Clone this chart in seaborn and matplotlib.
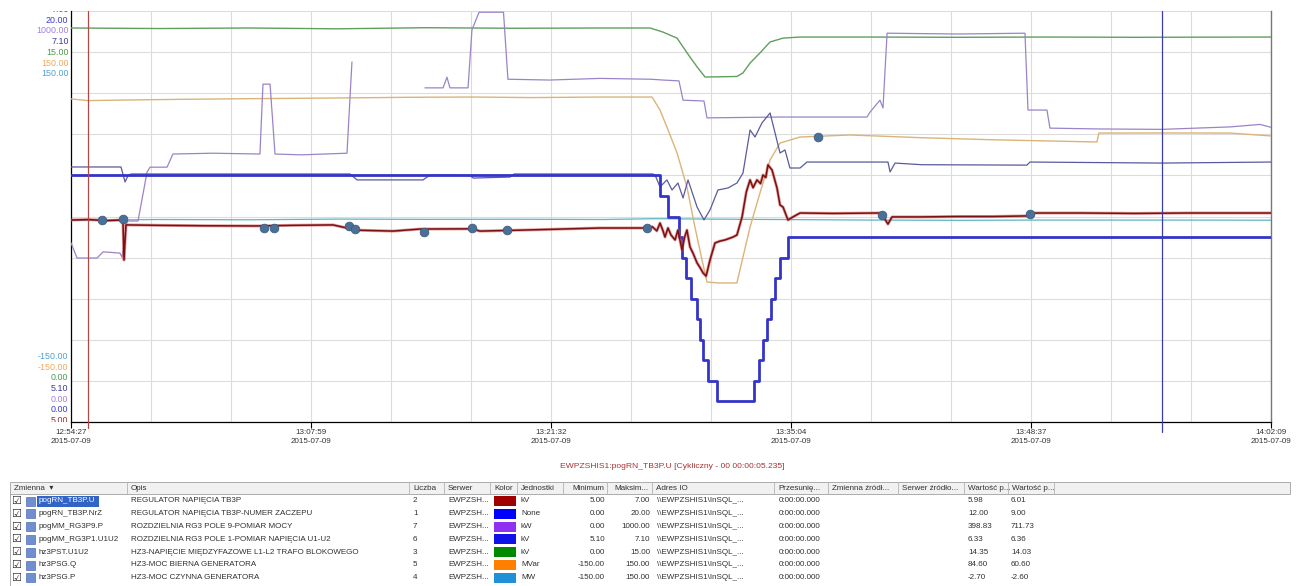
import numpy as np
import pandas as pd
import matplotlib
matplotlib.use("Agg")
import matplotlib.pyplot as plt
import seaborn as sns
from matplotlib.patches import Rectangle

# ---------------- data (time = minutes after 12:54:27) ----------------
x_end = 67.70
x_tick_minutes = [0.0, 13.54, 27.08, 40.62, 54.16, 67.70]
x_tick_labels = ["12:54:27\n2015-07-09", "13:07:59\n2015-07-09", "13:21:32\n2015-07-09",
                 "13:35:04\n2015-07-09", "13:48:37\n2015-07-09", "14:02:09\n2015-07-09"]

var_names = ["pogRN_TB3P.U", "pogRN_TB3P.NrZ", "pogMM_RG3P9.P", "pogMM_RG3P1.U1U2",
             "hz3PST.U1U2", "hz3PSG.Q", "hz3PSG.P"]
descriptions = ["REGULATOR NAPIĘCIA TB3P", "REGULATOR NAPIĘCIA TB3P-NUMER ZACZEPU",
                "ROZDZIELNIA RG3 POLE 9-POMIAR MOCY", "ROZDZIELNIA RG3 POLE 1-POMIAR NAPIĘCIA U1-U2",
                "HZ3-NAPIĘCIE MIĘDZYFAZOWE L1-L2 TRAFO BLOKOWEGO", "HZ3-MOC BIERNA GENERATORA",
                "HZ3-MOC CZYNNA GENERATORA"]
counts = ["2", "1", "7", "6", "3", "5", "4"]
units = ["kV", "None", "kW", "kV", "kV", "MVar", "MW"]
mins = ["5.00", "0.00", "0.00", "5.10", "0.00", "-150.00", "-150.00"]
maxs = ["7.00", "20.00", "1000.00", "7.10", "15.00", "150.00", "150.00"]
val_a = ["5.98", "12.00", "398.83", "6.33", "14.35", "84.60", "-2.70"]
val_b = ["6.01", "9.00", "711.73", "6.36", "14.03", "60.60", "-2.60"]
swatch_colors = ["#a00000", "#0000ff", "#9030f0", "#1010e8", "#008800", "#ff8000", "#2090d8"]

# pogRN_TB3P.U [kV]
u_trace = [(0.00, 5.983), (1.0, 5.985), (2.0, 5.980), (2.93, 5.983), (2.99, 5.788), (3.10, 5.959),
           (5.0, 5.957), (7.5, 5.955), (10.5, 5.954), (12.5, 5.957), (14.78, 5.959), (15.57, 5.944),
           (15.91, 5.934), (18.17, 5.929), (19.69, 5.939), (22.62, 5.940), (23.07, 5.929), (26.0, 5.935),
           (29.84, 5.944), (32.50, 5.944), (32.80, 5.950), (33.05, 5.930), (33.23, 5.968), (33.40, 5.930),
           (33.51, 5.900), (33.68, 5.944), (33.85, 5.910), (34.08, 5.886), (34.24, 5.934), (34.47, 5.837),
           (34.62, 5.900), (34.75, 5.934), (34.92, 5.852), (35.10, 5.820), (35.32, 5.774), (35.50, 5.750),
           (35.66, 5.725), (35.83, 5.710), (36.05, 5.788), (36.33, 5.871), (36.60, 5.880), (36.90, 5.886),
           (37.35, 5.900), (37.57, 5.910), (37.86, 5.998), (38.10, 6.120), (38.31, 6.178), (38.48, 6.140),
           (38.70, 6.178), (38.90, 6.160), (39.04, 6.202), (39.20, 6.190), (39.32, 6.251), (39.55, 6.226),
           (39.83, 6.139), (40.00, 6.056), (40.17, 6.046), (40.45, 5.983), (40.73, 5.998), (41.13, 6.017),
           (43.0, 6.015), (45.60, 6.017), (45.75, 6.010), (46.09, 5.963), (46.32, 5.998), (48.0, 5.998),
           (50.0, 6.000), (52.0, 6.000), (54.10, 6.003), (54.22, 6.017), (57.0, 6.017), (60.0, 6.015),
           (63.0, 6.017), (67.70, 6.017)]

# pogRN_TB3P.NrZ [tap number], step changes
nrz_steps = [(0.0, 12), (33.23, 11), (33.68, 10), (34.30, 9), (34.47, 8), (34.70, 7), (34.98, 6),
             (35.32, 5), (35.49, 4), (35.66, 3), (35.94, 2), (36.45, 1), (38.53, 2), (38.81, 3),
             (39.04, 4), (39.27, 5), (39.49, 6), (39.72, 7), (40.00, 8), (40.45, 9), (67.70, 9)]

# pogMM_RG3P9.P [kW], two recorded segments
p9_seg1 = [(0.0, 436), (0.34, 399), (1.47, 399), (1.81, 414), (2.76, 411), (2.88, 401), (3.16, 489),
           (3.78, 489), (4.29, 608), (4.46, 620), (5.42, 620), (5.75, 652), (8.0, 654), (10.66, 652),
           (10.83, 822), (11.23, 822), (11.51, 652), (13.0, 650), (15.57, 654), (15.85, 876)]
p9_seg2 = [(19.97, 813), (20.99, 813), (21.21, 839), (21.38, 813), (22.40, 813), (22.62, 954),
           (23.02, 997), (24.40, 997), (24.65, 834), (27.0, 832), (29.84, 836), (32.7, 834), (33.40, 832),
           (34.30, 830), (34.53, 783), (35.71, 781), (35.88, 740), (40.0, 742), (44.91, 742), (45.08, 754),
           (45.64, 783), (45.81, 764), (46.04, 946), (50.0, 944), (53.82, 946), (53.99, 759), (55.06, 759),
           (55.23, 715), (58.0, 713), (61.55, 712), (65.39, 718), (67.08, 724), (67.70, 717)]

# pogMM_RG3P1.U1U2 [kV]
u12_trace = [(0.0, 6.341), (2.82, 6.341), (3.05, 6.268), (3.22, 6.300), (3.40, 6.307), (10.0, 6.307),
             (15.74, 6.307), (16.14, 6.278), (19.86, 6.278), (20.25, 6.302), (22.5, 6.300), (22.7, 6.287),
             (24.77, 6.292), (25.0, 6.307), (32.84, 6.307), (33.0, 6.292), (33.23, 6.244), (33.62, 6.278),
             (33.91, 6.229), (34.24, 6.263), (34.53, 6.190), (34.81, 6.278), (35.32, 6.146), (35.71, 6.083),
             (36.05, 6.132), (36.50, 6.229), (37.07, 6.239), (37.57, 6.263), (37.91, 6.311), (38.31, 6.521),
             (38.59, 6.487), (38.98, 6.555), (39.44, 6.604), (40.00, 6.409), (40.28, 6.424), (40.56, 6.336),
             (41.13, 6.336), (41.52, 6.365), (46.09, 6.365), (46.21, 6.317), (46.49, 6.360), (48.0, 6.352),
             (53.93, 6.350), (54.10, 6.365), (61.55, 6.360), (67.70, 6.365)]

# hz3PST.U1U2 [kV]
ust_trace = [(0.0, 14.38), (5.0, 14.36), (10.0, 14.38), (15.0, 14.35), (20.0, 14.39), (25.0, 14.37),
             (30.0, 14.38), (32.67, 14.38), (33.40, 14.23), (34.19, 14.01), (34.92, 13.32), (35.37, 12.92),
             (35.77, 12.59), (37.57, 12.61), (37.91, 12.74), (38.31, 13.10), (38.87, 13.47), (39.44, 13.87),
             (40.17, 14.01), (41.13, 14.05), (45.0, 14.05), (50.0, 14.04), (55.0, 14.05), (60.0, 14.04),
             (67.70, 14.05)]

# hz3PSG.Q [MVar]
q_trace = [(0.0, 85.8), (0.96, 84.6), (3.0, 85.0), (6.0, 85.5), (10.0, 86.0), (15.0, 86.5), (19.0, 87.0),
           (22.6, 87.2), (26.0, 86.8), (30.0, 87.2), (32.78, 87.2), (33.23, 77.7), (33.62, 65.3),
           (34.19, 46.4), (34.75, 21.5), (35.20, -7.7), (35.60, -31.8), (35.88, -47.8), (36.5, -48.5),
           (37.57, -48.5), (37.91, -29.6), (38.31, -7.7), (38.87, 17.2), (39.44, 41.3), (40.00, 53.6),
           (41.13, 58.0), (43.95, 59.5), (48.0, 57.5), (52.0, 56.0), (57.88, 54.4), (57.99, 60.9),
           (62.0, 61.0), (65.39, 60.9), (67.70, 58.8)]

# hz3PSG.P [MW]
p_trace = [(0.0, -2.7), (5.0, -2.2), (10.0, -2.4), (15.0, -1.9), (20.0, -2.1), (25.0, -2.0), (30.0, -2.2),
           (33.0, -1.6), (36.0, -1.9), (40.0, -2.2), (45.0, -2.6), (50.0, -2.8), (55.0, -2.6),
           (61.55, -2.6), (67.70, -2.7)]

# event markers
events_u = [(1.75, 5.983), (2.93, 5.988), (10.89, 5.944), (11.45, 5.944), (15.68, 5.954), (16.02, 5.939),
            (19.92, 5.925), (22.62, 5.944), (24.60, 5.934), (32.50, 5.944), (45.75, 6.007), (54.10, 6.012)]
events_q = [(42.14, 58.0)]

red_cursor = 0.96
blue_cursor = 61.55

# ---------------- helpers ----------------
rng = {n: (float(a), float(b)) for n, a, b in zip(var_names, mins, maxs)}


def frame(points, name, seg=0):
    t, v = zip(*points)
    lo, hi = rng[name]
    return pd.DataFrame({"t": t, "n": (np.array(v, float) - lo) / (hi - lo), "seg": seg})


# ---------------- figure ----------------
sns.set_theme(style="white")
plt.rcParams["font.family"] = ["Liberation Sans", "DejaVu Sans"]

W, H = 1299, 586
L, R, T, B = 71, 1271, 11, 422
fig = plt.figure(figsize=(W / 100, H / 100), dpi=100)
fig.patch.set_facecolor("white")

tax = fig.add_axes([0, 0, 1, 1], zorder=0)
tax.set_xlim(0, W)
tax.set_ylim(H, 0)
tax.axis("off")

ax = fig.add_axes([L / W, 1 - B / H, (R - L) / W, (B - T) / H], zorder=2)
ax.set_facecolor("white")

line_specs = [
    (frame(p_trace, "hz3PSG.P"), "#5cb6c4", 0.9, None),
    (frame(ust_trace, "hz3PST.U1U2"), "#5f9f5f", 1.0, None),
    (frame(q_trace, "hz3PSG.Q"), "#dab478", 1.0, None),
    (pd.concat([frame(p9_seg1, "pogMM_RG3P9.P", 0), frame(p9_seg2, "pogMM_RG3P9.P", 1)]), "#9a84c8", 0.9, "seg"),
    (frame(u12_trace, "pogMM_RG3P1.U1U2"), "#5a5a9c", 0.9, None),
]
for df, col, lw, un in line_specs:
    sns.lineplot(data=df, x="t", y="n", units=un, estimator=None, sort=False, color=col,
                 linewidth=lw, ax=ax, legend=False, zorder=3)

sns.lineplot(data=frame(nrz_steps, "pogRN_TB3P.NrZ"), x="t", y="n", estimator=None, sort=False,
             color="#3434c8", linewidth=2.0, drawstyle="steps-post", ax=ax, legend=False, zorder=4)
sns.lineplot(data=frame(u_trace, "pogRN_TB3P.U"), x="t", y="n", estimator=None, sort=False,
             color="#d06060", linewidth=2.2, ax=ax, legend=False, zorder=4, alpha=0.6)
sns.lineplot(data=frame(u_trace, "pogRN_TB3P.U"), x="t", y="n", estimator=None, sort=False,
             color="#7a1010", linewidth=1.1, ax=ax, legend=False, zorder=5)

ev = pd.concat([frame(events_u, "pogRN_TB3P.U"), frame(events_q, "hz3PSG.Q")])
sns.scatterplot(data=ev, x="t", y="n", s=40, color="#4a7098", edgecolor="#3a5878", linewidth=0.5,
                ax=ax, legend=False, zorder=6)

ax.axvline(red_cursor, ymin=-0.015, ymax=1, color="#b04848", lw=0.9, clip_on=False, zorder=5)
ax.axvline(blue_cursor, ymin=-0.025, ymax=1, color="#3b3bb0", lw=0.9, clip_on=False, zorder=5)

ax.set_xlim(0, x_end)
ax.set_ylim(0, 1)
ax.set_xlabel("")
ax.set_ylabel("")
ax.set_xticks(x_tick_minutes)
ax.set_xticklabels(x_tick_labels, fontsize=5.8, color="#333333", linespacing=1.4)
ax.set_xticks(np.linspace(0, x_end, 16), minor=True)
ax.set_yticks(np.linspace(0, 1, 11))
ax.set_yticklabels([])
ax.tick_params(axis="x", which="major", length=4, width=0.8, color="black", pad=0.8, direction="out", bottom=True)
ax.tick_params(axis="x", which="minor", length=0, bottom=True)
ax.tick_params(axis="y", length=0)
ax.grid(True, which="both", color="#dcdcdc", lw=0.8)
ax.set_axisbelow(True)
for s in ["left", "bottom"]:
    ax.spines[s].set_color("black")
    ax.spines[s].set_linewidth(0.9)
ax.spines["right"].set_color("#777777")
ax.spines["right"].set_linewidth(1.0)
ax.spines["top"].set_visible(False)

# stacked range labels (left)
lax = fig.add_axes([0, 1 - B / H, L / W, (B - T) / H], zorder=1)
lax.set_xlim(0, L)
lax.set_ylim(B, T)
lax.axis("off")
label_colors = ["#9a2a2a", "#3a3ad0", "#a080e0", "#3a3a9a", "#4c9a4c", "#f0a860", "#50a0d0"]
for i in range(7):
    lax.text(68.5, 9.5 + 10.7 * i, maxs[i], ha="right", va="center", fontsize=6.4,
             color=label_colors[i], clip_on=True)
    lax.text(68.5, 420.7 - 10.7 * i, mins[i], ha="right", va="center", fontsize=6.4,
             color=label_colors[i], clip_on=True)

# ---------------- title + table ----------------
tax.text(672, 466, "EWPZSHIS1:pogRN_TB3P.U [Cykliczny - 00 00:00:05.235]", ha="center", va="center",
         fontsize=6.1, color="#a83232")

col_edges = [10, 127, 409, 444, 490, 517, 563, 607, 652, 774, 828, 898, 964, 1008, 1054, 1290]
headers = ["Zmienna  ▾", "Opis", "Liczba", "Serwer", "Kolor", "Jednostki", "Minimum", "Maksim...",
           "Adres IO", "Przesunię...", "Zmienna źródł...", "Serwer źródło...", "Wartość p...",
           "Wartość p...", ""]
fs = 5.8
tc = "#303030"
hy0, hy1 = 482, 494
tax.add_patch(Rectangle((col_edges[0], hy0), col_edges[-1] - col_edges[0], hy1 - hy0,
                        fc="#f1f1f1", ec="#a0a0a0", lw=0.6))
for xe in col_edges[1:-1]:
    tax.plot([xe, xe], [hy0, hy1], color="#b4b4b4", lw=0.6)
for i, h in enumerate(headers):
    if i in (6, 7):
        tax.text(col_edges[i + 1] - 3, 488, h, ha="right", va="center", fontsize=fs, color=tc)
    else:
        tax.text(col_edges[i] + 4, 488, h, ha="left", va="center", fontsize=fs, color=tc)
tax.plot([col_edges[0], col_edges[0]], [hy1, H], color="#a0a0a0", lw=0.6)

row_step = 12.8
for r in range(7):
    y = 501 + row_step * r
    tax.text(16.5, y, "☑", ha="center", va="center", fontsize=8, color="#303030",
             family="DejaVu Sans")
    tax.add_patch(Rectangle((26, y - 4.5), 9, 9, fc="#6f8fd0", ec="#3a5aa8", lw=0.4))
    if r == 0:
        tax.add_patch(Rectangle((37, y - 5.5), 62, 11, fc="#3264c8", ec="none"))
        tax.text(39, y, var_names[r], ha="left", va="center", fontsize=fs, color="white")
    else:
        tax.text(39, y, var_names[r], ha="left", va="center", fontsize=fs, color=tc)
    tax.text(131, y, descriptions[r], ha="left", va="center", fontsize=fs, color=tc)
    tax.text(413, y, counts[r], ha="left", va="center", fontsize=fs, color=tc)
    tax.text(448, y, "EWPZSH...", ha="left", va="center", fontsize=fs, color=tc)
    tax.add_patch(Rectangle((494, y - 5), 22, 10, fc=swatch_colors[r], ec="none"))
    tax.text(521, y, units[r], ha="left", va="center", fontsize=fs, color=tc)
    tax.text(605, y, mins[r], ha="right", va="center", fontsize=fs, color=tc)
    tax.text(650, y, maxs[r], ha="right", va="center", fontsize=fs, color=tc)
    tax.text(657, y, r"\\EWPZSHIS1\InSQL_...", ha="left", va="center", fontsize=fs, color=tc)
    tax.text(779, y, "0:00:00.000", ha="left", va="center", fontsize=fs, color=tc)
    tax.text(968, y, val_a[r], ha="left", va="center", fontsize=fs, color=tc)
    tax.text(1011, y, val_b[r], ha="left", va="center", fontsize=fs, color=tc)

fig.savefig("out.png", dpi=100, facecolor="white")
